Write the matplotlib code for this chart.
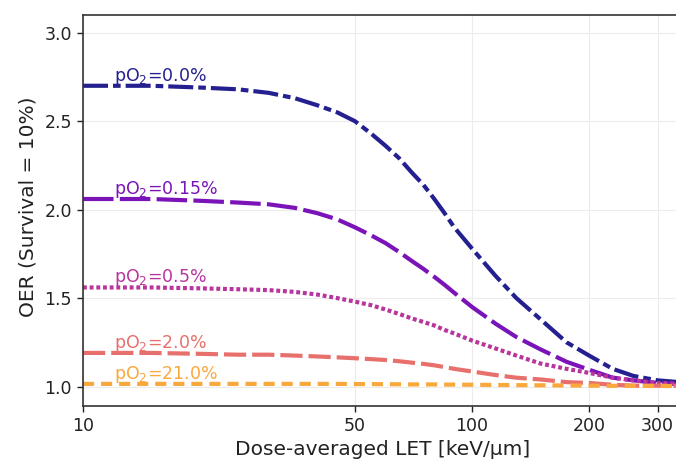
import matplotlib
matplotlib.use("Agg")
from matplotlib import pyplot as plt
from matplotlib.ticker import FixedLocator, FixedFormatter, NullLocator

plt.rcParams['lines.scale_dashes'] = False

# LET grid (keV/um)
let_vals = [10, 15, 20, 25, 30, 35, 40, 45, 50, 55, 60, 65, 70, 75, 80, 85, 90, 100,
            115, 130, 150, 175, 200, 230, 260, 300, 340]

# OER values
oer_0 = [2.70, 2.70, 2.69, 2.68, 2.66, 2.63, 2.59, 2.55, 2.50, 2.43, 2.36, 2.29, 2.21, 2.14, 2.06, 1.98, 1.90, 1.78,
         1.625, 1.50, 1.38, 1.25, 1.175, 1.10, 1.06, 1.035, 1.025]
oer_015 = [2.06, 2.06, 2.05, 2.04, 2.03, 2.01, 1.98, 1.945, 1.90, 1.855, 1.81, 1.76, 1.71, 1.665, 1.62, 1.575, 1.53, 1.45,
           1.355, 1.28, 1.21, 1.14, 1.095, 1.05, 1.035, 1.02, 1.015]
oer_05 = [1.56, 1.56, 1.555, 1.55, 1.545, 1.535, 1.52, 1.50, 1.48, 1.46, 1.435, 1.41, 1.385, 1.365, 1.345, 1.32, 1.30, 1.26,
          1.215, 1.175, 1.13, 1.10, 1.077, 1.05, 1.035, 1.02, 1.015]
oer_2 = [1.19, 1.19, 1.185, 1.18, 1.18, 1.175, 1.17, 1.165, 1.16, 1.155, 1.15, 1.143, 1.135, 1.128, 1.12, 1.11, 1.10, 1.085,
         1.065, 1.05, 1.04, 1.025, 1.02, 1.01, 1.005, 1.005, 1.005]
oer_21 = [1.015, 1.015, 1.015, 1.015, 1.015, 1.015, 1.015, 1.015, 1.014, 1.014, 1.013, 1.013, 1.012, 1.012, 1.012, 1.011, 1.011, 1.01,
          1.009, 1.008, 1.007, 1.006, 1.005, 1.004, 1.004, 1.003, 1.003]

labels = ['pO$_2$=0.0%', 'pO$_2$=0.15%', 'pO$_2$=0.5%', 'pO$_2$=2.0%', 'pO$_2$=21.0%']
series = [oer_0, oer_015, oer_05, oer_2, oer_21]
colors = ['#24208f', '#7a14b8', '#b8359c', '#e8706c', '#f9a83c']
dashes = [(18, 3.6, 5.5, 3.6), (22, 4.5), (2.8, 2.0), (16, 4.3), (8, 5)]

xticks = [10, 50, 100, 200, 300]
yticks = [1.0, 1.5, 2.0, 2.5, 3.0]

fig = plt.figure(figsize=(6.76, 4.59), dpi=100)
ax = fig.add_axes([83 / 676, 1 - 406 / 459, 605.4 / 676, 391 / 459])

for y, lab, c, d in zip(series, labels, colors, dashes):
    ax.plot(let_vals, y, color=c, lw=3, dashes=d, dash_joinstyle='round')
    ax.text(12, y[0] - 0.005, lab, color=c, fontsize=12.5, ha='left', va='bottom')

ax.set_xscale('log')
ax.set_xlim(10, 360)
ax.set_ylim(0.89, 3.10)
ax.xaxis.set_major_locator(FixedLocator(xticks))
ax.xaxis.set_major_formatter(FixedFormatter([str(t) for t in xticks]))
ax.xaxis.set_minor_locator(NullLocator())
ax.set_yticks(yticks)
ax.set_yticklabels(['%.1f' % t for t in yticks])
ax.tick_params(labelsize=12.5, length=4.5, width=1, colors='#222222')
ax.grid(True, color='#ececec', lw=0.8)
ax.set_axisbelow(True)
for s in ax.spines.values():
    s.set_color('#333333')
    s.set_linewidth(1.2)

fig.text(28 / 676, 1 - 207 / 459, 'OER (Survival = 10%)', rotation=90,
         ha='center', va='center', fontsize=14.5, color='#222222')
fig.text(383 / 676, 1 - 440 / 459, 'Dose-averaged LET [keV/\u00b5m]',
         ha='center', va='top', fontsize=14.5, color='#222222')

fig.savefig('out.png', dpi=100)
